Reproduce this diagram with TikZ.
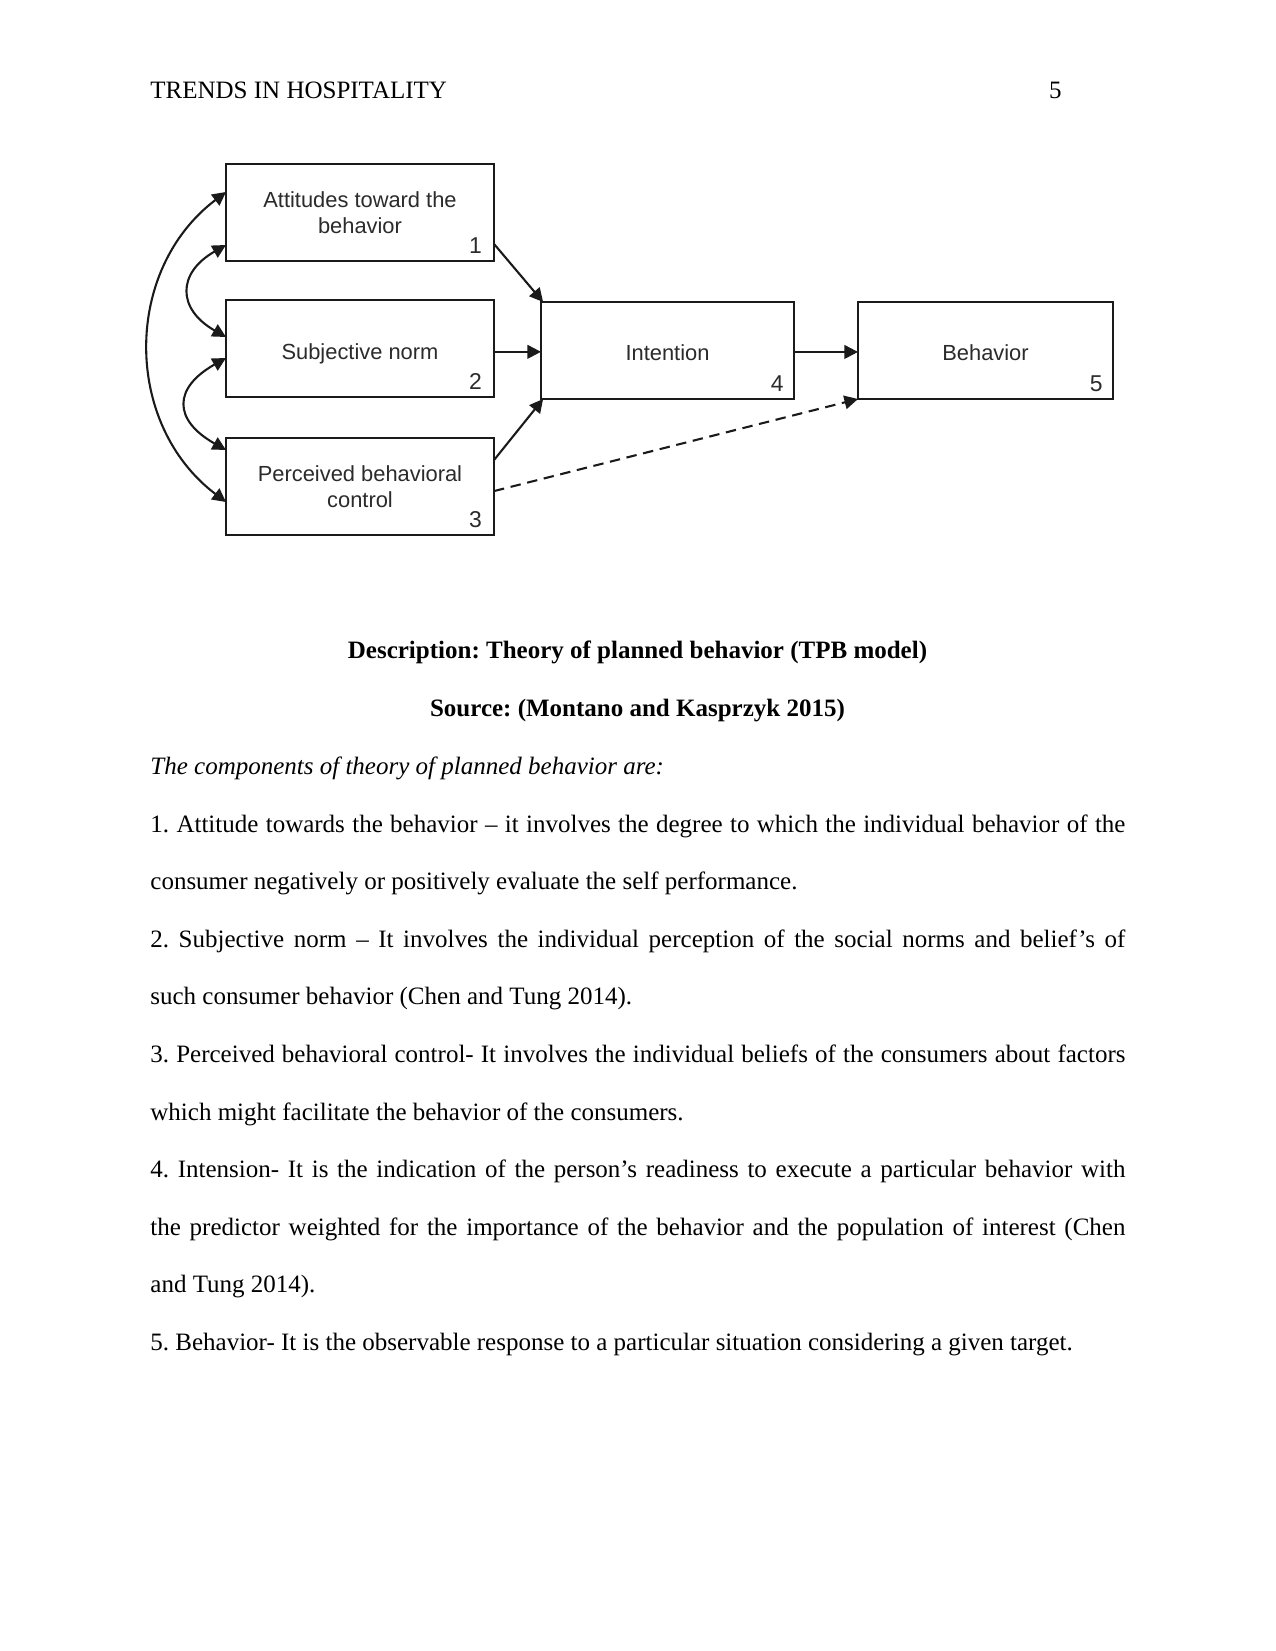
\documentclass[tikz,border=0pt]{standalone}
\usepackage{fontspec}
\setmainfont{Liberation Serif}
\newfontfamily\diagfont{Liberation Sans}
\usetikzlibrary{arrows.meta}
\definecolor{boxline}{HTML}{1A1A1A}
\definecolor{boxtext}{HTML}{2B2B2B}
\frenchspacing
\begin{document}
\begin{tikzpicture}[x=0.48pt,y=-0.48pt,
  box/.style={draw=boxline,line width=1.1pt,minimum height=46.56pt,inner sep=0pt,outer sep=0pt,align=center,text=boxtext,font=\diagfont\fontsize{10.5}{12.5}\selectfont},
  num/.style={anchor=base east,inner sep=0pt,text=boxtext,font=\diagfont\fontsize{11}{12.5}\selectfont},
  conn/.style={draw=boxline,line width=1pt,-{Triangle[length=6.5pt,width=6.5pt]}},
  dconn/.style={conn,dash pattern=on 5pt off 3.2pt},
  biconn/.style={draw=boxline,line width=1pt,{Triangle[length=6.5pt,width=6.5pt]}-{Triangle[length=6.5pt,width=6.5pt]}},
  body/.style={anchor=base west,inner sep=0pt,font=\fontsize{12}{14}\selectfont},
  centred/.style={anchor=base,inner sep=0pt,font=\fontsize{12}{14}\selectfont\bfseries}
]
\useasboundingbox (0,0) rectangle (1275,1651);
\fill[white] (0,0) rectangle (1275,1651);

% header
\node[body] (hdr) at (150,99) {TRENDS IN HOSPITALITY};
\node[anchor=base east,inner sep=0pt,font=\fontsize{12}{14}\selectfont] (pg) at (1062,99) {5};

% boxes
\node[box,minimum width=128.64pt] (b1) at (360,212.5) {Attitudes toward the\\behavior};
\node[box,minimum width=128.64pt,text height=10.4pt,text depth=0pt] (b2) at (360,348.5) {Subjective norm};
\node[box,minimum width=128.64pt] (b3) at (360,486.5) {Perceived behavioral\\control};
\node[box,minimum width=121.44pt,text height=9.6pt,text depth=0pt] (b4) at (667.5,350.5) {Intention};
\node[box,minimum width=122.4pt,text height=9.6pt,text depth=0pt] (b5) at (985.5,350.5) {Behavior};

% numbers
\node[num] (n1) at ([xshift=-5.6pt,yshift=3.8pt]b1.south east) {1};
\node[num] (n2) at ([xshift=-5.6pt,yshift=3.8pt]b2.south east) {2};
\node[num] (n3) at ([xshift=-5.6pt,yshift=3.8pt]b3.south east) {3};
\node[num] (n4) at ([xshift=-4.8pt,yshift=3.8pt]b4.south east) {4};
\node[num] (n5) at ([xshift=-4.8pt,yshift=3.8pt]b5.south east) {5};

% connectors
\draw[conn] ([yshift=8.2pt]b1.south east) -- ([xshift=1pt]b4.north west);
\draw[conn] ([yshift=-1.6pt]b2.east) -- ([yshift=-1.6pt]b2.east -| b4.west);
\draw[conn] ([yshift=-10.6pt]b3.north east) -- ([xshift=1pt]b4.south west);
\draw[dconn] ([yshift=-2.2pt]b3.east) -- (b5.south west);
\draw[conn] ([yshift=-0.7pt]b4.east) -- ([yshift=-0.7pt]b5.west);

% curved double arrows
\draw[biconn] ([yshift=9.84pt]b1.west) .. controls +(-103,78) and +(-103,-78) .. ([yshift=-7.44pt]b3.west);
\draw[biconn] ([yshift=-15.6pt]b1.west) .. controls +(-49,28) and +(-49,-28) .. ([yshift=5.52pt]b2.west);
\draw[biconn] ([yshift=-4.56pt]b2.west) .. controls +(-53,30) and +(-53,-30) .. ([yshift=17.52pt]b3.west);

% captions
\node[centred] (cap1) at (637.5,658) {Description: Theory of planned behavior (TPB model)};
\node[centred] (cap2) at (637.5,716) {Source: (Montano and Kasprzyk 2015)};

% body text
\node[body] (l0) at (150,774) {\itshape The components of theory of planned behavior are:};
\node[body] (l1) at (150,832) {\hbox to 468pt{1. Attitude towards the behavior – it involves the degree to which the individual behavior of the}};
\node[body] (l2) at (150,889) {consumer negatively or positively evaluate the self performance.};
\node[body] (l3) at (150,947) {\hbox to 468pt{2. Subjective norm – It involves the individual perception of the social norms and belief’s of}};
\node[body] (l4) at (150,1004) {such consumer behavior (Chen and Tung 2014).};
\node[body] (l5) at (150,1062) {\hbox to 468pt{3. Perceived behavioral control- It involves the individual beliefs of the consumers about factors}};
\node[body] (l6) at (150,1120) {which might facilitate the behavior of the consumers.};
\node[body] (l7) at (150,1177) {\hbox to 468pt{4. Intension- It is the indication of the person’s readiness to execute a particular behavior with}};
\node[body] (l8) at (150,1235) {\hbox to 468pt{the predictor weighted for the importance of the behavior and the population of interest (Chen}};
\node[body] (l9) at (150,1292) {and Tung 2014).};
\node[body] (l10) at (150,1350) {5. Behavior- It is the observable response to a particular situation considering a given target.};
\end{tikzpicture}
\end{document}
